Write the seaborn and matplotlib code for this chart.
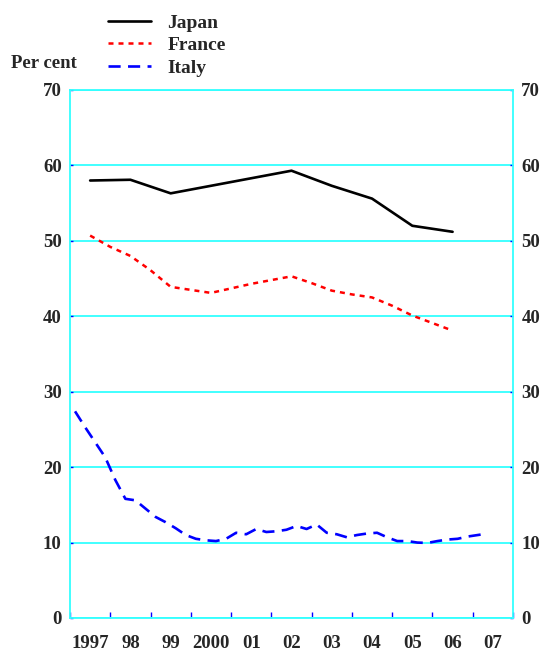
import numpy as np
import pandas as pd
import matplotlib
matplotlib.use("Agg")
import matplotlib.pyplot as plt
import seaborn as sns

# Japan: annual, plotted at mid-year
japan_x = [1997.5, 1998.5, 1999.5, 2000.5, 2001.5, 2002.5, 2003.5, 2004.5, 2005.5, 2006.5]
japan_y = [58.0, 58.1, 56.3, 57.3, 58.3, 59.3, 57.3, 55.6, 52.0, 51.2]

# France: half-yearly
france_x = [1997.5, 1998.0, 1998.5, 1999.0, 1999.5, 2000.0, 2000.5, 2001.0, 2001.5, 2002.0,
            2002.5, 2003.0, 2003.5, 2004.0, 2004.5, 2005.0, 2005.5, 2006.0, 2006.5]
france_y = [50.7, 49.2, 48.0, 46.1, 43.9, 43.5, 43.1, 43.7, 44.3, 44.8,
            45.3, 44.4, 43.4, 42.9, 42.5, 41.4, 40.1, 39.1, 38.1]

# Italy: quarterly, plotted at mid-quarter
italy_x = [1997.125 + 0.25 * k for k in range(42)]
italy_y = [27.4, 25.3, 23.3, 21.3, 18.3, 15.8, 15.6, 14.5, 13.4, 12.7,
           11.9, 11.0, 10.5, 10.3, 10.2, 10.5, 11.3, 11.1, 11.8, 11.4,
           11.5, 11.7, 12.2, 11.8, 12.4, 11.3, 11.1, 10.7, 11.0, 11.2,
           11.3, 10.7, 10.2, 10.2, 10.0, 9.95, 10.2, 10.4, 10.5, 10.8,
           11.0, 11.2]

year_edges = list(range(1997, 2009))
year_labels = ["1997", "98", "99", "2000", "01", "02", "03", "04", "05", "06", "07"]
y_ticks = [0, 10, 20, 30, 40, 50, 60, 70]

sns.set_style("white")
plt.rcParams["font.family"] = ["Liberation Serif", "DejaVu Serif"]
plt.rcParams["font.weight"] = "bold"

fig = plt.figure(figsize=(5.45, 6.52), dpi=100)
ax = fig.add_axes([70 / 545, 1 - 618 / 652, 443 / 545, 528 / 652])

cyan = "#33FFFF"

df_jp = pd.DataFrame({"year": japan_x, "value": japan_y})
df_fr = pd.DataFrame({"year": france_x, "value": france_y})
df_it = pd.DataFrame({"year": italy_x, "value": italy_y})

sns.lineplot(data=df_jp, x="year", y="value", ax=ax, color="black", lw=1.9,
             label="Japan")
sns.lineplot(data=df_fr, x="year", y="value", ax=ax, color="red", lw=1.8,
             linestyle=(0, (2.0, 2.0)), label="France")
sns.lineplot(data=df_it, x="year", y="value", ax=ax, color="blue", lw=1.9,
             linestyle=(0, (4.6, 2.8)), label="Italy")

handles, labels = ax.get_legend_handles_labels()
if ax.get_legend() is not None:
    ax.get_legend().remove()

ax.set_xlim(1997, 2008)
ax.set_ylim(0, 70)
ax.set_xlabel("")
ax.set_ylabel("")

# y axis: both sides
ax.set_yticks(y_ticks)
ax.set_yticklabels([str(v) for v in y_ticks])
ax.tick_params(axis="y", which="major", left=True, right=True, labelleft=True,
               labelright=True, direction="in", length=2, width=1, color="blue",
               pad=6, labelsize=13.5)
ax.yaxis.grid(True, color=cyan, lw=1.3)
ax.xaxis.grid(False)

# x axis: ticks at year boundaries, labels at year centres
ax.set_xticks(year_edges)
ax.set_xticklabels([])
ax.set_xticks([y + 0.5 for y in year_edges[:-1]], minor=True)
ax.set_xticklabels(year_labels, minor=True)
ax.tick_params(axis="x", which="major", bottom=True, direction="in", length=4,
               width=1, color="blue")
ax.tick_params(axis="x", which="minor", bottom=True, length=0, pad=12, labelsize=13.5)

for s in ax.spines.values():
    s.set_color(cyan)
    s.set_linewidth(1.3)

fig.text(44 / 545, 1 - 63 / 652, "Per cent", ha="center", va="center",
         fontsize=13.5, fontweight="bold")

fig.legend(handles, labels, loc="upper left", bbox_to_anchor=(108 / 545, 1 - 14 / 652),
           frameon=False, fontsize=14, handlelength=2.2, handletextpad=0.85,
           labelspacing=0.25, borderpad=0, borderaxespad=0)

fig.savefig("out.png", dpi=100)
